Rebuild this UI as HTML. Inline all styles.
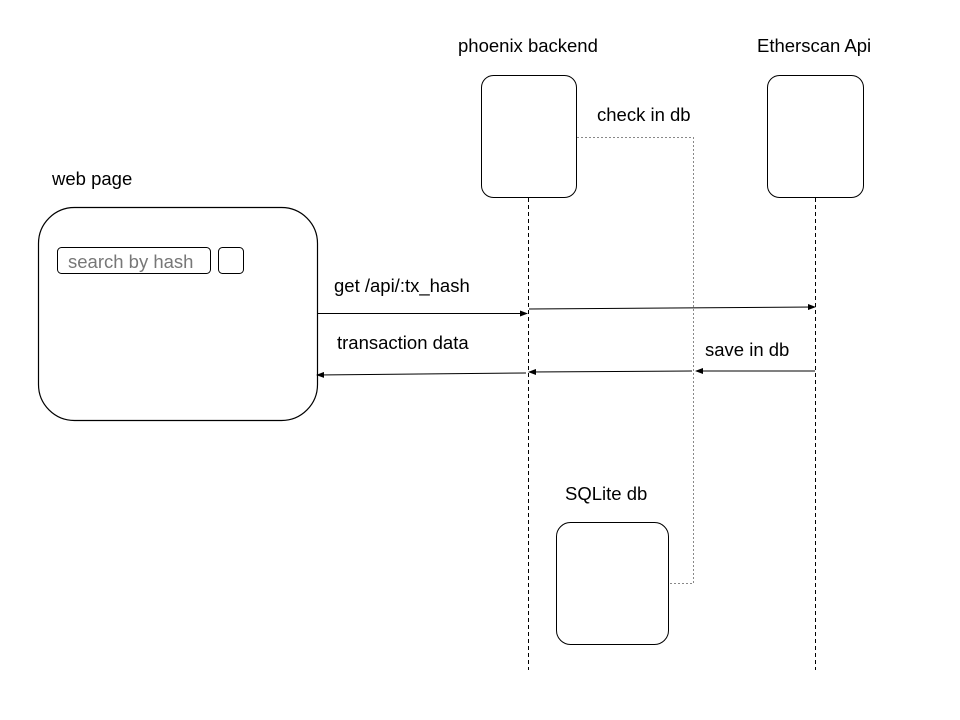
<!DOCTYPE html>
<html><head><style>body{margin:0;background:#fff}svg{display:block}</style></head><body>
<svg width="960" height="720" xmlns="http://www.w3.org/2000/svg" font-family="Liberation Sans, Arial, sans-serif" font-size="18.5">
<defs><marker id="a" markerWidth="8" markerHeight="6" refX="7" refY="3" orient="auto" markerUnits="userSpaceOnUse"><path d="M0,0 L8,3 L0,6 Z" fill="#000"/></marker></defs>
<rect width="960" height="720" fill="#fff"/>
<rect x="38.5" y="207.5" width="279" height="213" rx="36" fill="none" stroke="#000" stroke-width="1.2"/>
<rect x="57.5" y="247.5" width="153" height="26" rx="4" fill="none" stroke="#000"/>
<rect x="218.5" y="247.5" width="25" height="26" rx="4" fill="none" stroke="#000"/>
<text x="68" y="268" fill="#777">search by hash</text>
<rect x="481.5" y="75.5" width="95" height="122" rx="12" fill="none" stroke="#000"/>
<rect x="767.5" y="75.5" width="96" height="122" rx="12" fill="none" stroke="#000"/>
<rect x="556.5" y="522.5" width="112" height="122" rx="14" fill="none" stroke="#000"/>
<line x1="528.5" y1="198" x2="528.5" y2="670" stroke="#000" stroke-dasharray="4,3"/>
<line x1="815.5" y1="198" x2="815.5" y2="670" stroke="#000" stroke-dasharray="4,3"/>
<polyline points="577,137.5 693.5,137.5 693.5,583.5 669,583.5" fill="none" stroke="#888" stroke-dasharray="2,2"/>
<line x1="317" y1="313.5" x2="527" y2="313.5" stroke="#000" marker-end="url(#a)"/>
<line x1="529" y1="309" x2="815" y2="307" stroke="#000" marker-end="url(#a)"/>
<line x1="815" y1="371" x2="696" y2="371" stroke="#000" marker-end="url(#a)"/>
<line x1="692" y1="371" x2="529" y2="372" stroke="#000" marker-end="url(#a)"/>
<line x1="526" y1="373" x2="317" y2="375" stroke="#000" marker-end="url(#a)"/>
<text x="52" y="185">web page</text>
<text x="458" y="52">phoenix backend</text>
<text x="757" y="52">Etherscan Api</text>
<text x="597" y="121">check in db</text>
<text x="334" y="292">get /api/:tx_hash</text>
<text x="337" y="349">transaction data</text>
<text x="705" y="356">save in db</text>
<text x="565" y="500">SQLite db</text>
</svg>
</body></html>
